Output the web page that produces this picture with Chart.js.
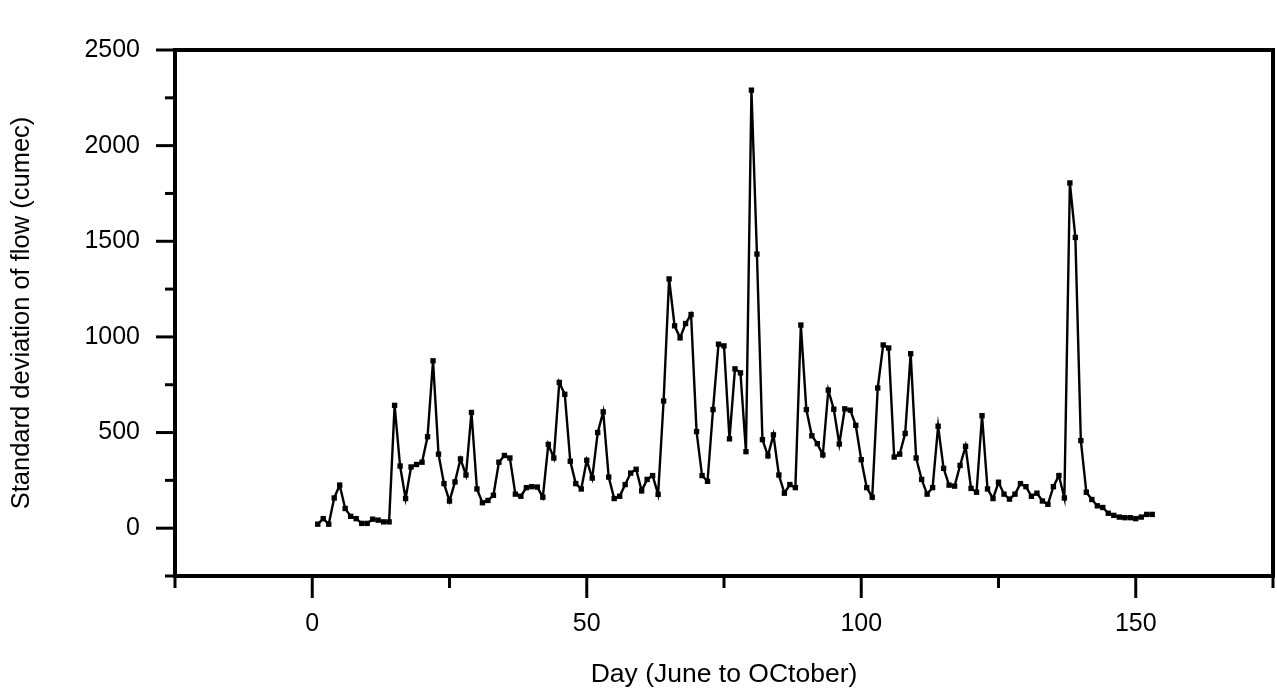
<!DOCTYPE html>
<html>
<head>
<meta charset="utf-8">
<script src="https://cdn.jsdelivr.net/npm/chart.js@4/dist/chart.umd.min.js"></script>
<style>
  html, body { margin: 0; padding: 0; background: #fff; }
  #wrap { width: 1277px; height: 691px; }
</style>
</head>
<body>
<div id="wrap"><canvas id="flow-chart" width="1277" height="691"></canvas></div>
<script>
/* ================================================
   Std. deviation of flow, June to October
   ================================================ */

// daily standard deviation of flow (cumec), day 1 .. 153
const flowStd = [
  21, 50, 21, 158, 225, 103, 62, 50, 25, 25,
  47, 42, 33, 33, 642, 325, 155, 320, 333, 345,
  478, 875, 387, 233, 142, 242, 362, 278, 605, 205,
  133, 145, 172, 345, 380, 367, 178, 167, 212, 217,
  215, 162, 438, 367, 762, 700, 350, 233, 205, 355,
  262, 500, 608, 267, 155, 167, 228, 288, 308, 195,
  255, 275, 177, 665, 1303, 1058, 995, 1070, 1117, 505,
  275, 245, 620, 962, 953, 467, 833, 812, 400, 2290,
  1433, 463, 378, 488, 278, 183, 228, 212, 1062, 620,
  483, 442, 383, 722, 622, 440, 624, 617, 538, 358,
  212, 162, 733, 958, 942, 372, 387, 495, 912, 367,
  255, 178, 212, 533, 313, 225, 220, 328, 428, 208,
  188, 588, 205, 155, 240, 178, 152, 178, 233, 217,
  167, 183, 142, 125, 217, 275, 158, 1805, 1520, 458,
  188, 150, 117, 108, 78, 67, 58, 55, 55, 50,
  58, 72, 72
];
const days = flowStd.map((_, i) => i + 1);

const xMajorTicks = [0, 50, 100, 150];
const xMinorTicks = [-25, 25, 75, 125, 175];
const yMajorTicks = [0, 500, 1000, 1500, 2000, 2500];
const yMinorTicks = [-250, 250, 750, 1250, 1750, 2250];

const FONT = 'Liberation Sans, Arial, Helvetica, sans-serif';

// frame + outward ticks, drawn off the library scales
const frameTicks = {
  id: 'frameTicks',
  afterDraw(chart) {
    const { ctx, chartArea: a, scales } = chart;
    const x = scales.x, y = scales.y;
    ctx.save();
    ctx.strokeStyle = '#000';
    ctx.lineCap = 'butt';

    ctx.lineWidth = 3;
    xMajorTicks.forEach(v => {
      const px = x.getPixelForValue(v);
      ctx.beginPath(); ctx.moveTo(px, a.bottom); ctx.lineTo(px, a.bottom + 22); ctx.stroke();
    });
    xMinorTicks.forEach(v => {
      const px = x.getPixelForValue(v);
      ctx.beginPath(); ctx.moveTo(px, a.bottom); ctx.lineTo(px, a.bottom + 12); ctx.stroke();
    });
    yMajorTicks.forEach(v => {
      const py = y.getPixelForValue(v);
      ctx.beginPath(); ctx.moveTo(a.left, py); ctx.lineTo(a.left - 19, py); ctx.stroke();
    });
    yMinorTicks.forEach(v => {
      const py = y.getPixelForValue(v);
      ctx.beginPath(); ctx.moveTo(a.left, py); ctx.lineTo(a.left - 10, py); ctx.stroke();
    });

    ctx.lineWidth = 4;
    ctx.strokeRect(a.left, a.top, a.right - a.left, a.bottom - a.top);
    ctx.restore();
  }
};

new Chart(document.getElementById('flow-chart').getContext('2d'), {
  type: 'line',
  data: {
    datasets: [{
      data: days.map((d, i) => ({ x: d, y: flowStd[i] })),
      borderColor: '#000',
      backgroundColor: '#000',
      borderWidth: 2.4,
      pointStyle: 'rect',
      pointRadius: 3.8,
      pointBorderWidth: 0,
      tension: 0,
      fill: false,
    }],
  },
  options: {
    responsive: false,
    animation: false,
    events: [],
    layout: { padding: { top: 25, right: 3, left: 0, bottom: 0 } },
    plugins: {
      legend: { display: false },
      tooltip: { enabled: false },
    },
    scales: {
      x: {
        type: 'linear',
        min: -25,
        max: 175,
        afterFit: s => { s.height = 115; },
        afterBuildTicks: s => { s.ticks = xMajorTicks.map(v => ({ value: v })); },
        grid: { display: false, drawTicks: false },
        border: { display: false },
        ticks: {
          color: '#000',
          padding: 33,
          maxRotation: 0,
          font: { family: FONT, size: 25 },
          callback: v => String(v),
        },
        title: {
          display: true,
          text: 'Day (June to OCtober)',
          color: '#000',
          font: { family: FONT, size: 26.5 },
          padding: { top: 0, bottom: 0 },
        },
      },
      y: {
        type: 'linear',
        min: -250,
        max: 2500,
        afterFit: s => { s.width = 175; },
        afterBuildTicks: s => { s.ticks = yMajorTicks.map(v => ({ value: v })); },
        grid: { display: false, drawTicks: false },
        border: { display: false },
        ticks: {
          color: '#000',
          padding: 35,
          font: { family: FONT, size: 25 },
          callback: v => String(v),
        },
        title: {
          display: true,
          text: 'Standard deviation of flow (cumec)',
          color: '#000',
          font: { family: FONT, size: 25.5 },
          padding: { top: 7, bottom: 0 },
        },
      },
    },
  },
  plugins: [frameTicks],
});
</script>
</body>
</html>
